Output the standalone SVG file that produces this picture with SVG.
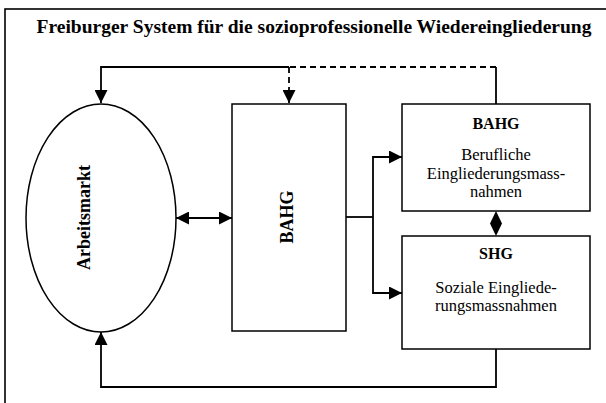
<svg xmlns="http://www.w3.org/2000/svg" width="606" height="403" viewBox="0 0 606 403">
<style>
.box{fill:#fff;stroke:#000;stroke-width:1.5}
.ln{fill:none;stroke:#000;stroke-width:1.8}
.dash{fill:none;stroke:#000;stroke-width:1.8;stroke-dasharray:6,4}
.t{font-family:"Liberation Serif","Times New Roman",serif;fill:#000;text-anchor:middle}
.b{font-weight:bold}
</style>
<defs>
<marker id="ah" markerUnits="userSpaceOnUse" markerWidth="13" markerHeight="13" viewBox="0 0 12 12" refX="12" refY="6" orient="auto-start-reverse">
<path d="M0,0 L12,6 L0,12 Z" fill="#000"/>
</marker>
</defs>
<rect x="5" y="9" width="610" height="410" fill="#fff" stroke="#000" stroke-width="1.6"/>
<text class="t b" x="314" y="33" font-size="19.5">Freiburger System für die sozioprofessionelle Wiedereingliederung</text>
<g id="arbeitsmarkt">
<ellipse cx="101" cy="218" rx="75" ry="114" class="box"/>
<text class="t b" font-size="18" transform="translate(90,217.5) rotate(-90)">Arbeitsmarkt</text>
</g>
<g id="bahg-main">
<rect x="232" y="104" width="114" height="227" class="box"/>
<text class="t b" font-size="18" transform="translate(293,217) rotate(-90)">BAHG</text>
</g>
<g id="bahg-berufliche">
<rect x="402" y="104" width="188" height="107" class="box"/>
<text class="t b" x="496" y="129" font-size="16">BAHG</text>
<text class="t" x="496" y="160" font-size="16.5">Berufliche</text>
<text class="t" x="496" y="179" font-size="16.5">Eingliederungsmass-</text>
<text class="t" x="496" y="197" font-size="16.5">nahmen</text>
</g>
<g id="shg">
<rect x="402" y="236" width="188" height="113" class="box"/>
<text class="t b" x="496" y="259" font-size="16">SHG</text>
<text class="t" x="496" y="293" font-size="16.5">Soziale Eingliede-</text>
<text class="t" x="496" y="311" font-size="16.5">rungsmassnahmen</text>
</g>
<g id="connectors">
<path class="ln" d="M496,104 V67"/>
<path class="dash" d="M496,67 H289"/>
<path class="ln" d="M289,67 H101 V103" marker-end="url(#ah)"/>
<path class="dash" d="M289,67 V103" marker-end="url(#ah)"/>
<path class="ln" d="M176,218 H232" marker-start="url(#ah)" marker-end="url(#ah)"/>
<path class="ln" d="M346,217 H373"/>
<path class="ln" d="M373,217 V157 H402" marker-end="url(#ah)"/>
<path class="ln" d="M373,217 V293 H402" marker-end="url(#ah)"/>
<polygon points="496,211 502,223.5 496,236 490,223.5" fill="#000"/>
<path class="ln" d="M496,349 V387 H101 V332" marker-end="url(#ah)"/>
</g>
</svg>
